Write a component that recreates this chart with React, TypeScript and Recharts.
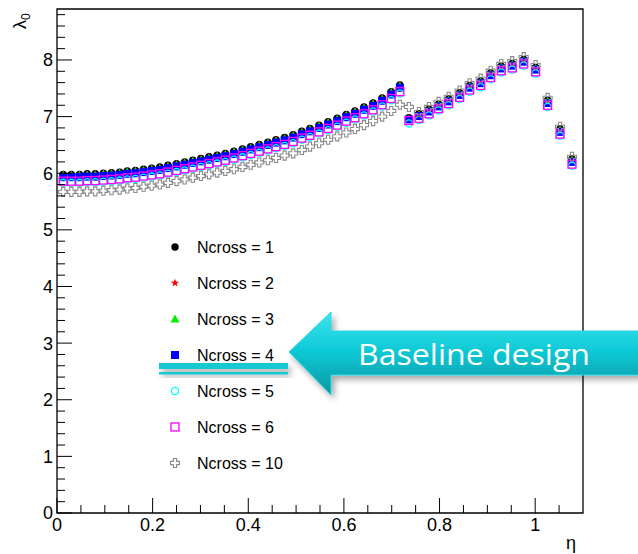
import React from 'react';
import { ScatterChart, Scatter, XAxis, YAxis, ReferenceArea, Legend } from 'recharts';

// eta bin centres (barrel part, then the part after the gap)
const etaLeft = [
  0.013, 0.030, 0.047, 0.063, 0.080, 0.097, 0.114, 0.131, 0.147, 0.164,
  0.181, 0.198, 0.215, 0.232, 0.250, 0.267, 0.284, 0.301, 0.318, 0.335,
  0.352, 0.370, 0.388, 0.405, 0.423, 0.441, 0.458, 0.476, 0.494, 0.512,
  0.529, 0.548, 0.567, 0.586, 0.605, 0.623, 0.642, 0.661, 0.680, 0.699, 0.717,
];
const etaRight = [
  0.736, 0.757, 0.778, 0.798, 0.819, 0.842, 0.863, 0.886,
  0.907, 0.929, 0.952, 0.976, 1.001, 1.026, 1.052, 1.077,
];

const n1Left = [5.98, 5.98, 5.98, 5.99, 5.99, 6.00, 6.01, 6.02, 6.04, 6.05, 6.07, 6.09, 6.11, 6.14, 6.17, 6.20, 6.23, 6.26, 6.29, 6.32, 6.35, 6.39, 6.43, 6.47, 6.51, 6.55, 6.59, 6.63, 6.68, 6.74, 6.79, 6.85, 6.91, 6.97, 7.04, 7.10, 7.17, 7.24, 7.33, 7.44, 7.56];
const n1Right = [6.98, 7.05, 7.13, 7.22, 7.31, 7.42, 7.55, 7.63, 7.77, 7.89, 7.94, 8.01, 7.87, 7.29, 6.78, 6.25];

const n2Left = [5.97, 5.97, 5.97, 5.98, 5.98, 5.99, 6.00, 6.01, 6.03, 6.04, 6.06, 6.08, 6.10, 6.13, 6.16, 6.19, 6.22, 6.25, 6.28, 6.31, 6.34, 6.38, 6.42, 6.46, 6.50, 6.54, 6.58, 6.62, 6.67, 6.73, 6.78, 6.84, 6.90, 6.96, 7.03, 7.09, 7.16, 7.23, 7.32, 7.43, 7.55];
const n2Right = [6.97, 7.04, 7.12, 7.21, 7.30, 7.41, 7.54, 7.62, 7.76, 7.88, 7.93, 8.00, 7.86, 7.28, 6.77, 6.24];

const n3Left = [5.96, 5.96, 5.96, 5.97, 5.97, 5.98, 5.99, 6.00, 6.02, 6.03, 6.05, 6.07, 6.09, 6.12, 6.15, 6.18, 6.21, 6.24, 6.27, 6.30, 6.33, 6.37, 6.41, 6.45, 6.49, 6.53, 6.57, 6.61, 6.66, 6.72, 6.77, 6.83, 6.89, 6.95, 7.02, 7.08, 7.15, 7.22, 7.31, 7.42, 7.54];
const n3Right = [6.96, 7.03, 7.11, 7.20, 7.29, 7.40, 7.53, 7.61, 7.75, 7.87, 7.92, 7.99, 7.85, 7.27, 6.76, 6.23];

const n4Left = [5.93, 5.93, 5.93, 5.94, 5.94, 5.95, 5.96, 5.97, 5.99, 6.00, 6.02, 6.04, 6.06, 6.09, 6.12, 6.15, 6.18, 6.21, 6.24, 6.27, 6.30, 6.34, 6.38, 6.42, 6.46, 6.50, 6.54, 6.58, 6.63, 6.69, 6.74, 6.80, 6.86, 6.92, 6.99, 7.05, 7.12, 7.19, 7.28, 7.39, 7.51];
const n4Right = [6.95, 7.01, 7.09, 7.18, 7.27, 7.38, 7.51, 7.59, 7.73, 7.85, 7.90, 7.97, 7.83, 7.24, 6.73, 6.20];

const n5Left = [5.83, 5.83, 5.83, 5.84, 5.84, 5.85, 5.86, 5.87, 5.89, 5.90, 5.92, 5.94, 5.96, 5.99, 6.02, 6.05, 6.08, 6.11, 6.14, 6.17, 6.20, 6.24, 6.28, 6.32, 6.36, 6.40, 6.44, 6.48, 6.53, 6.59, 6.64, 6.70, 6.76, 6.82, 6.89, 6.95, 7.02, 7.09, 7.18, 7.29, 7.41];
const n5Right = [6.88, 6.94, 7.02, 7.11, 7.20, 7.31, 7.44, 7.52, 7.66, 7.78, 7.83, 7.90, 7.76, 7.17, 6.66, 6.13];

const n6Left = [5.86, 5.86, 5.86, 5.87, 5.87, 5.88, 5.89, 5.90, 5.92, 5.93, 5.95, 5.97, 5.99, 6.02, 6.05, 6.08, 6.11, 6.14, 6.17, 6.20, 6.23, 6.27, 6.31, 6.35, 6.39, 6.43, 6.47, 6.51, 6.56, 6.62, 6.67, 6.73, 6.79, 6.85, 6.92, 6.98, 7.05, 7.12, 7.21, 7.32, 7.44];
const n6Right = [6.93, 6.97, 7.05, 7.14, 7.23, 7.34, 7.47, 7.55, 7.69, 7.81, 7.86, 7.93, 7.79, 7.20, 6.69, 6.16];

const n10Left = [5.67, 5.67, 5.67, 5.68, 5.68, 5.69, 5.70, 5.71, 5.73, 5.74, 5.76, 5.78, 5.80, 5.83, 5.86, 5.89, 5.92, 5.95, 5.98, 6.01, 6.04, 6.07, 6.11, 6.15, 6.19, 6.23, 6.27, 6.31, 6.35, 6.41, 6.47, 6.53, 6.59, 6.65, 6.72, 6.78, 6.85, 6.92, 7.00, 7.10, 7.21];
const n10Right = [7.17, 7.08, 7.17, 7.26, 7.35, 7.46, 7.59, 7.67, 7.81, 7.93, 7.98, 8.05, 7.91, 7.33, 6.82, 6.29];

const xTicks = [0, 0.05, 0.1, 0.15, 0.2, 0.25, 0.3, 0.35, 0.4, 0.45, 0.5, 0.55, 0.6, 0.65, 0.7, 0.75, 0.8, 0.85, 0.9, 0.95, 1, 1.05];
const xMajor = [0, 0.2, 0.4, 0.6, 0.8, 1];
const yTicks = [
  0, 0.2, 0.4, 0.6, 0.8, 1, 1.2, 1.4, 1.6, 1.8, 2, 2.2, 2.4, 2.6, 2.8, 3, 3.2, 3.4, 3.6, 3.8,
  4, 4.2, 4.4, 4.6, 4.8, 5, 5.2, 5.4, 5.6, 5.8, 6, 6.2, 6.4, 6.6, 6.8, 7, 7.2, 7.4, 7.6, 7.8,
  8, 8.2, 8.4, 8.6, 8.8,
];
const yMajor = [0, 1, 2, 3, 4, 5, 6, 7, 8];

const W = 638;
const H = 554;
const PLOT_LEFT = 57;
const PLOT_BOTTOM = 513;
const FONT = '"Liberation Sans", Arial, Helvetica, sans-serif';

const toPoints = (left: number[], right: number[]) =>
  [...left.map((y, i) => ({ x: etaLeft[i], y })), ...right.map((y, i) => ({ x: etaRight[i], y }))];

type Kind = 'dot' | 'star' | 'triangle' | 'square' | 'ocircle' | 'osquare' | 'ocross';

const series: { name: string; kind: Kind; color: string; data: { x: number; y: number }[] }[] = [
  { name: 'Ncross = 1', kind: 'dot', color: '#000000', data: toPoints(n1Left, n1Right) },
  { name: 'Ncross = 2', kind: 'star', color: '#ff0000', data: toPoints(n2Left, n2Right) },
  { name: 'Ncross = 3', kind: 'triangle', color: '#00ee00', data: toPoints(n3Left, n3Right) },
  { name: 'Ncross = 4', kind: 'square', color: '#0000ff', data: toPoints(n4Left, n4Right) },
  { name: 'Ncross = 5', kind: 'ocircle', color: '#00ffff', data: toPoints(n5Left, n5Right) },
  { name: 'Ncross = 6', kind: 'osquare', color: '#ff00ff', data: toPoints(n6Left, n6Right) },
  { name: 'Ncross = 10', kind: 'ocross', color: '#8a8a8a', data: toPoints(n10Left, n10Right) },
];

function starPath(cx: number, cy: number, R: number, r: number) {
  let d = '';
  for (let i = 0; i < 10; i++) {
    const rad = i % 2 === 0 ? R : r;
    const a = -Math.PI / 2 + (i * Math.PI) / 5;
    d += `${i === 0 ? 'M' : 'L'}${cx + rad * Math.cos(a)},${cy + rad * Math.sin(a)} `;
  }
  return d + 'Z';
}

function Marker({ kind, color, cx, cy }: { kind: Kind; color: string; cx: number; cy: number }) {
  if (cx == null || cy == null) return null;
  switch (kind) {
    case 'dot':
      return <circle cx={cx} cy={cy} r={3.7} fill={color} />;
    case 'star':
      return <path d={starPath(cx, cy, 4.3, 1.8)} fill={color} />;
    case 'triangle':
      return <polygon points={`${cx},${cy - 4.5} ${cx + 4.5},${cy + 3.5} ${cx - 4.5},${cy + 3.5}`} fill={color} />;
    case 'square':
      return <rect x={cx - 4} y={cy - 4} width={8} height={8} fill={color} />;
    case 'ocircle':
      return <circle cx={cx} cy={cy} r={3.6} fill="none" stroke={color} strokeWidth={1.3} />;
    case 'osquare':
      return <rect x={cx - 4} y={cy - 4} width={8} height={8} fill="none" stroke={color} strokeWidth={1.3} />;
    case 'ocross': {
      const s = 4.5;
      const a = 1.6;
      const d = `M${cx - a},${cy - s} L${cx + a},${cy - s} L${cx + a},${cy - a} L${cx + s},${cy - a} L${cx + s},${cy + a} L${cx + a},${cy + a} L${cx + a},${cy + s} L${cx - a},${cy + s} L${cx - a},${cy + a} L${cx - s},${cy + a} L${cx - s},${cy - a} L${cx - a},${cy - a} Z`;
      return <path d={d} fill="none" stroke={color} strokeWidth={1.1} />;
    }
  }
  return null;
}

const isMajor = (list: number[], v: number) => list.some((m) => Math.abs(m - v) < 1e-6);

const YTick = (props: any) => {
  const { y, payload } = props;
  const major = isMajor(yMajor, payload.value);
  return (
    <g>
      <line x1={PLOT_LEFT} x2={PLOT_LEFT + (major ? 15 : 8)} y1={y} y2={y} stroke="#000" strokeWidth={1} />
      {major && (
        <text x={PLOT_LEFT - 4} y={y} dy="0.36em" textAnchor="end" fontSize={18} fontFamily={FONT} fill="#000">
          {payload.value}
        </text>
      )}
    </g>
  );
};

const XTick = (props: any) => {
  const { x, payload } = props;
  const major = isMajor(xMajor, payload.value);
  return (
    <g>
      <line x1={x} x2={x} y1={PLOT_BOTTOM} y2={PLOT_BOTTOM - (major ? 15 : 8)} stroke="#000" strokeWidth={1} />
      {major && (
        <text x={x} y={PLOT_BOTTOM + 18} textAnchor="middle" fontSize={18} fontFamily={FONT} fill="#000">
          {payload.value}
        </text>
      )}
    </g>
  );
};

const LegendBox = () => (
  <svg width={140} height={260}>
    {series.map((s, i) => (
      <g key={s.name}>
        <Marker kind={s.kind} color={s.color} cx={15} cy={18 + 36 * i} />
        <text x={37} y={18 + 36 * i + 5.8} fontSize={16} fontFamily={FONT} fill="#000">
          {s.name}
        </text>
      </g>
    ))}
  </svg>
);

export default function App() {
  return (
    <div style={{ position: 'absolute', left: 0, top: 0, width: W, height: H, background: '#fff' }}>
      <ScatterChart width={W} height={H} margin={{ top: 9, right: 55, bottom: 0, left: 0 }}>
        <XAxis
          type="number"
          dataKey="x"
          domain={[0, 1.1]}
          ticks={xTicks}
          interval={0}
          height={41}
          axisLine={false}
          tickLine={false}
          tick={<XTick />}
          allowDataOverflow
        />
        <YAxis
          type="number"
          dataKey="y"
          domain={[0, 8.9]}
          ticks={yTicks}
          interval={0}
          width={57}
          axisLine={false}
          tickLine={false}
          tick={<YTick />}
          allowDataOverflow
        />
        <ReferenceArea x1={0} x2={1.1} y1={0} y2={8.9} fill="none" stroke="#000" strokeWidth={1.3} fillOpacity={0} />
        {series.map((s) => (
          <Scatter
            key={s.name}
            name={s.name}
            data={s.data}
            fill={s.color}
            isAnimationActive={false}
            shape={(p: any) => <Marker kind={s.kind} color={s.color} cx={p.cx} cy={p.cy} />}
          />
        ))}
        <Legend
          layout="vertical"
          align="center"
          verticalAlign="middle"
          content={() => <LegendBox />}
          wrapperStyle={{ left: 160, top: 229, width: 140, height: 260 }}
        />
      </ScatterChart>

      <svg width={W} height={H} style={{ position: 'absolute', left: 0, top: 0, pointerEvents: 'none' }}>
        <defs>
          <linearGradient id="arrowFill" x1="0" y1="0" x2="0" y2="1">
            <stop offset="0" stopColor="#3fe2ec" />
            <stop offset="0.45" stopColor="#0fcbd7" />
            <stop offset="1" stopColor="#0a95a2" />
          </linearGradient>
          <filter id="shadow" x="-20%" y="-30%" width="140%" height="160%">
            <feDropShadow dx="3" dy="4" stdDeviation="3" floodColor="#000" floodOpacity="0.35" />
          </filter>
        </defs>
        {/* axis titles */}
        <text transform="translate(26,29) rotate(-90)" fontSize={18} fontFamily={FONT} fill="#000">
          λ<tspan fontSize={12} dy={4}>0</tspan>
        </text>
        <text x={566} y={549} fontSize={18} fontFamily={FONT} fill="#000">
          η
        </text>
        {/* annotation */}
        <g filter="url(#shadow)">
          <rect x={159} y={363} width={129} height={6} fill="#12c8d2" />
          <rect x={159} y={372} width={129} height={2.5} fill="#12c8d2" />
        </g>
        <polygon
          points="289,352 331,312 331,331 640,331 640,375 331,375 331,395"
          fill="url(#arrowFill)"
          stroke="#2cd6e0"
          strokeWidth={1}
          filter="url(#shadow)"
        />
        <text
          x={358}
          y={365}
          fontSize={30}
          fontFamily='"Open Sans", Lato, sans-serif'
          fill="#ffffff"
          textLength={232}
          lengthAdjust="spacingAndGlyphs"
        >
          Baseline design
        </text>
      </svg>
    </div>
  );
}
